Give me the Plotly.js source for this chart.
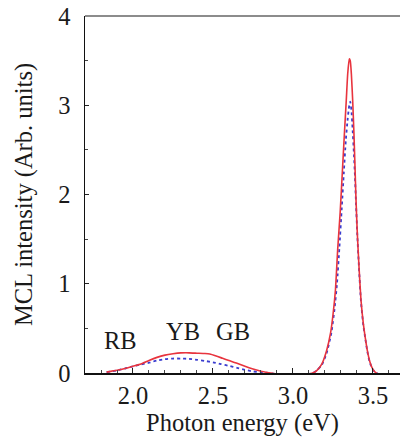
<!DOCTYPE html>
<html>
<head>
<meta charset="utf-8">
<script src="https://cdn.plot.ly/plotly-3.0.1.min.js"></script>
<style>
  html, body { margin: 0; padding: 0; background: #fff; }
  #chart { width: 400px; height: 439px; }
</style>
</head>
<body>
<div id="chart"></div>
<script>
// Cathodoluminescence spectrum: photon energy (eV) vs MCL intensity (arb. units)
const redEnergy = [1.835, 1.90, 1.95, 2.00, 2.05, 2.10, 2.15, 2.20, 2.25, 2.30, 2.35, 2.40, 2.45, 2.48,
  2.52, 2.56, 2.60, 2.65, 2.70, 2.75, 2.80, 2.85, 2.90, 2.95, 3.00, 3.05, 3.10, 3.13, 3.15, 3.18,
  3.21, 3.235, 3.25, 3.265, 3.28, 3.295, 3.31, 3.322, 3.333, 3.342, 3.352, 3.358, 3.365, 3.373,
  3.381, 3.3875, 3.394, 3.402, 3.4125, 3.425, 3.44, 3.45, 3.465, 3.48, 3.50, 3.52, 3.55, 3.60, 3.67];
const redIntensity = [0.01, 0.03, 0.05, 0.075, 0.10, 0.14, 0.175, 0.20, 0.215, 0.225, 0.226, 0.222, 0.218, 0.212,
  0.19, 0.165, 0.14, 0.11, 0.075, 0.045, 0.02, 0.003, -0.012, -0.018, -0.018, -0.015, -0.01, 0.005, 0.03, 0.10,
  0.25, 0.45, 0.65, 0.92, 1.4, 1.8, 2.3, 2.7, 3.05, 3.35, 3.52, 3.50, 3.35, 3.06,
  2.69, 2.32, 1.94, 1.57, 1.196, 0.82, 0.55, 0.42, 0.25, 0.13, 0.04, 0.0, -0.02, -0.02, -0.015];

const blueEnergy = [1.835, 1.90, 1.95, 2.00, 2.05, 2.10, 2.15, 2.20, 2.25, 2.30, 2.35, 2.40, 2.45, 2.50,
  2.55, 2.60, 2.65, 2.70, 2.75, 2.80, 2.85, 2.90, 2.95, 3.00, 3.05, 3.10, 3.13, 3.15, 3.18,
  3.21, 3.24, 3.26, 3.275, 3.29, 3.305, 3.318, 3.33, 3.342, 3.352, 3.358, 3.365, 3.373,
  3.381, 3.3875, 3.394, 3.402, 3.4125, 3.425, 3.44, 3.45, 3.465, 3.48, 3.50, 3.52, 3.55, 3.60, 3.67];
const blueIntensity = [0.01, 0.03, 0.05, 0.075, 0.095, 0.115, 0.14, 0.155, 0.162, 0.162, 0.158, 0.148, 0.135, 0.12,
  0.10, 0.08, 0.058, 0.035, 0.018, 0.008, 0.0, -0.012, -0.018, -0.018, -0.015, -0.01, 0.005, 0.03, 0.09,
  0.22, 0.45, 0.72, 1.0, 1.4, 1.85, 2.25, 2.6, 2.85, 3.0, 3.04, 2.95, 2.72,
  2.45, 2.2, 1.9, 1.55, 1.18, 0.8, 0.53, 0.41, 0.24, 0.12, 0.035, 0.0, -0.02, -0.02, -0.015];

const xTickVals = [2.0, 2.5, 3.0, 3.5];
const xTickText = ['2.0', '2.5', '3.0', '3.5'];
const yTickVals = [0, 1, 2, 3, 4];

const bandNames = ['RB', 'YB', 'GB'];
const bandX = [1.92, 2.31, 2.625];
const bandY = [0.36, 0.47, 0.47];

const serif = 'Liberation Serif, Times New Roman, serif';
const textSize = 24.5;

const traces = [
  {
    x: blueEnergy, y: blueIntensity, type: 'scatter', mode: 'lines',
    line: { color: '#3a3ccf', width: 1.8, dash: 'dot', shape: 'spline', smoothing: 0.5 },
    hoverinfo: 'skip'
  },
  {
    x: redEnergy, y: redIntensity, type: 'scatter', mode: 'lines',
    line: { color: '#e8343e', width: 1.6, shape: 'spline', smoothing: 0.5 },
    hoverinfo: 'skip'
  }
];

const layout = {
  width: 400, height: 439,
  margin: { l: 85, r: 0, t: 16, b: 66 },
  paper_bgcolor: '#ffffff', plot_bgcolor: '#ffffff',
  showlegend: false,
  font: { family: serif, size: textSize, color: '#1a1a1a' },
  xaxis: {
    range: [1.7, 3.669],
    tickvals: xTickVals, ticktext: xTickText,
    ticks: 'inside', ticklen: 5, tickwidth: 1, tickcolor: '#222',
    minor: { dtick: 0.1, tick0: 2.0, ticks: 'inside', ticklen: 3, tickcolor: '#444', showgrid: false },
    showline: true, linecolor: '#111', linewidth: 1.5,
    showgrid: false, zeroline: false,
    ticklabelstandoff: 0,
    tickfont: { family: serif, size: textSize, color: '#1a1a1a' },
    title: { text: 'Photon energy (eV)', font: { family: serif, size: textSize, color: '#1a1a1a' }, standoff: 4 }
  },
  yaxis: {
    range: [0, 4],
    tickvals: yTickVals,
    ticks: 'inside', ticklen: 4, tickwidth: 1, tickcolor: '#222',
    minor: { dtick: 0.5, ticks: 'inside', ticklen: 3, tickcolor: '#444', showgrid: false },
    showline: true, linecolor: '#111', linewidth: 1.5,
    showgrid: false, zeroline: false,
    ticklabelstandoff: 8,
    tickfont: { family: serif, size: textSize, color: '#1a1a1a' },
    title: { text: 'MCL intensity (Arb. units)', font: { family: serif, size: textSize, color: '#1a1a1a' }, standoff: 19 }
  },
  shapes: [
    { type: 'line', xref: 'paper', yref: 'paper', x0: 0, x1: 1, y0: 1, y1: 1,
      line: { color: '#666', width: 1.5 } }
  ],
  annotations: bandNames.map((name, i) => ({
    x: bandX[i], y: bandY[i], xref: 'x', yref: 'y', text: name, showarrow: false,
    font: { family: serif, size: textSize, color: '#1a1a1a' }
  }))
};

Plotly.newPlot('chart', traces, layout, { displayModeBar: false, staticPlot: true });
</script>
</body>
</html>
